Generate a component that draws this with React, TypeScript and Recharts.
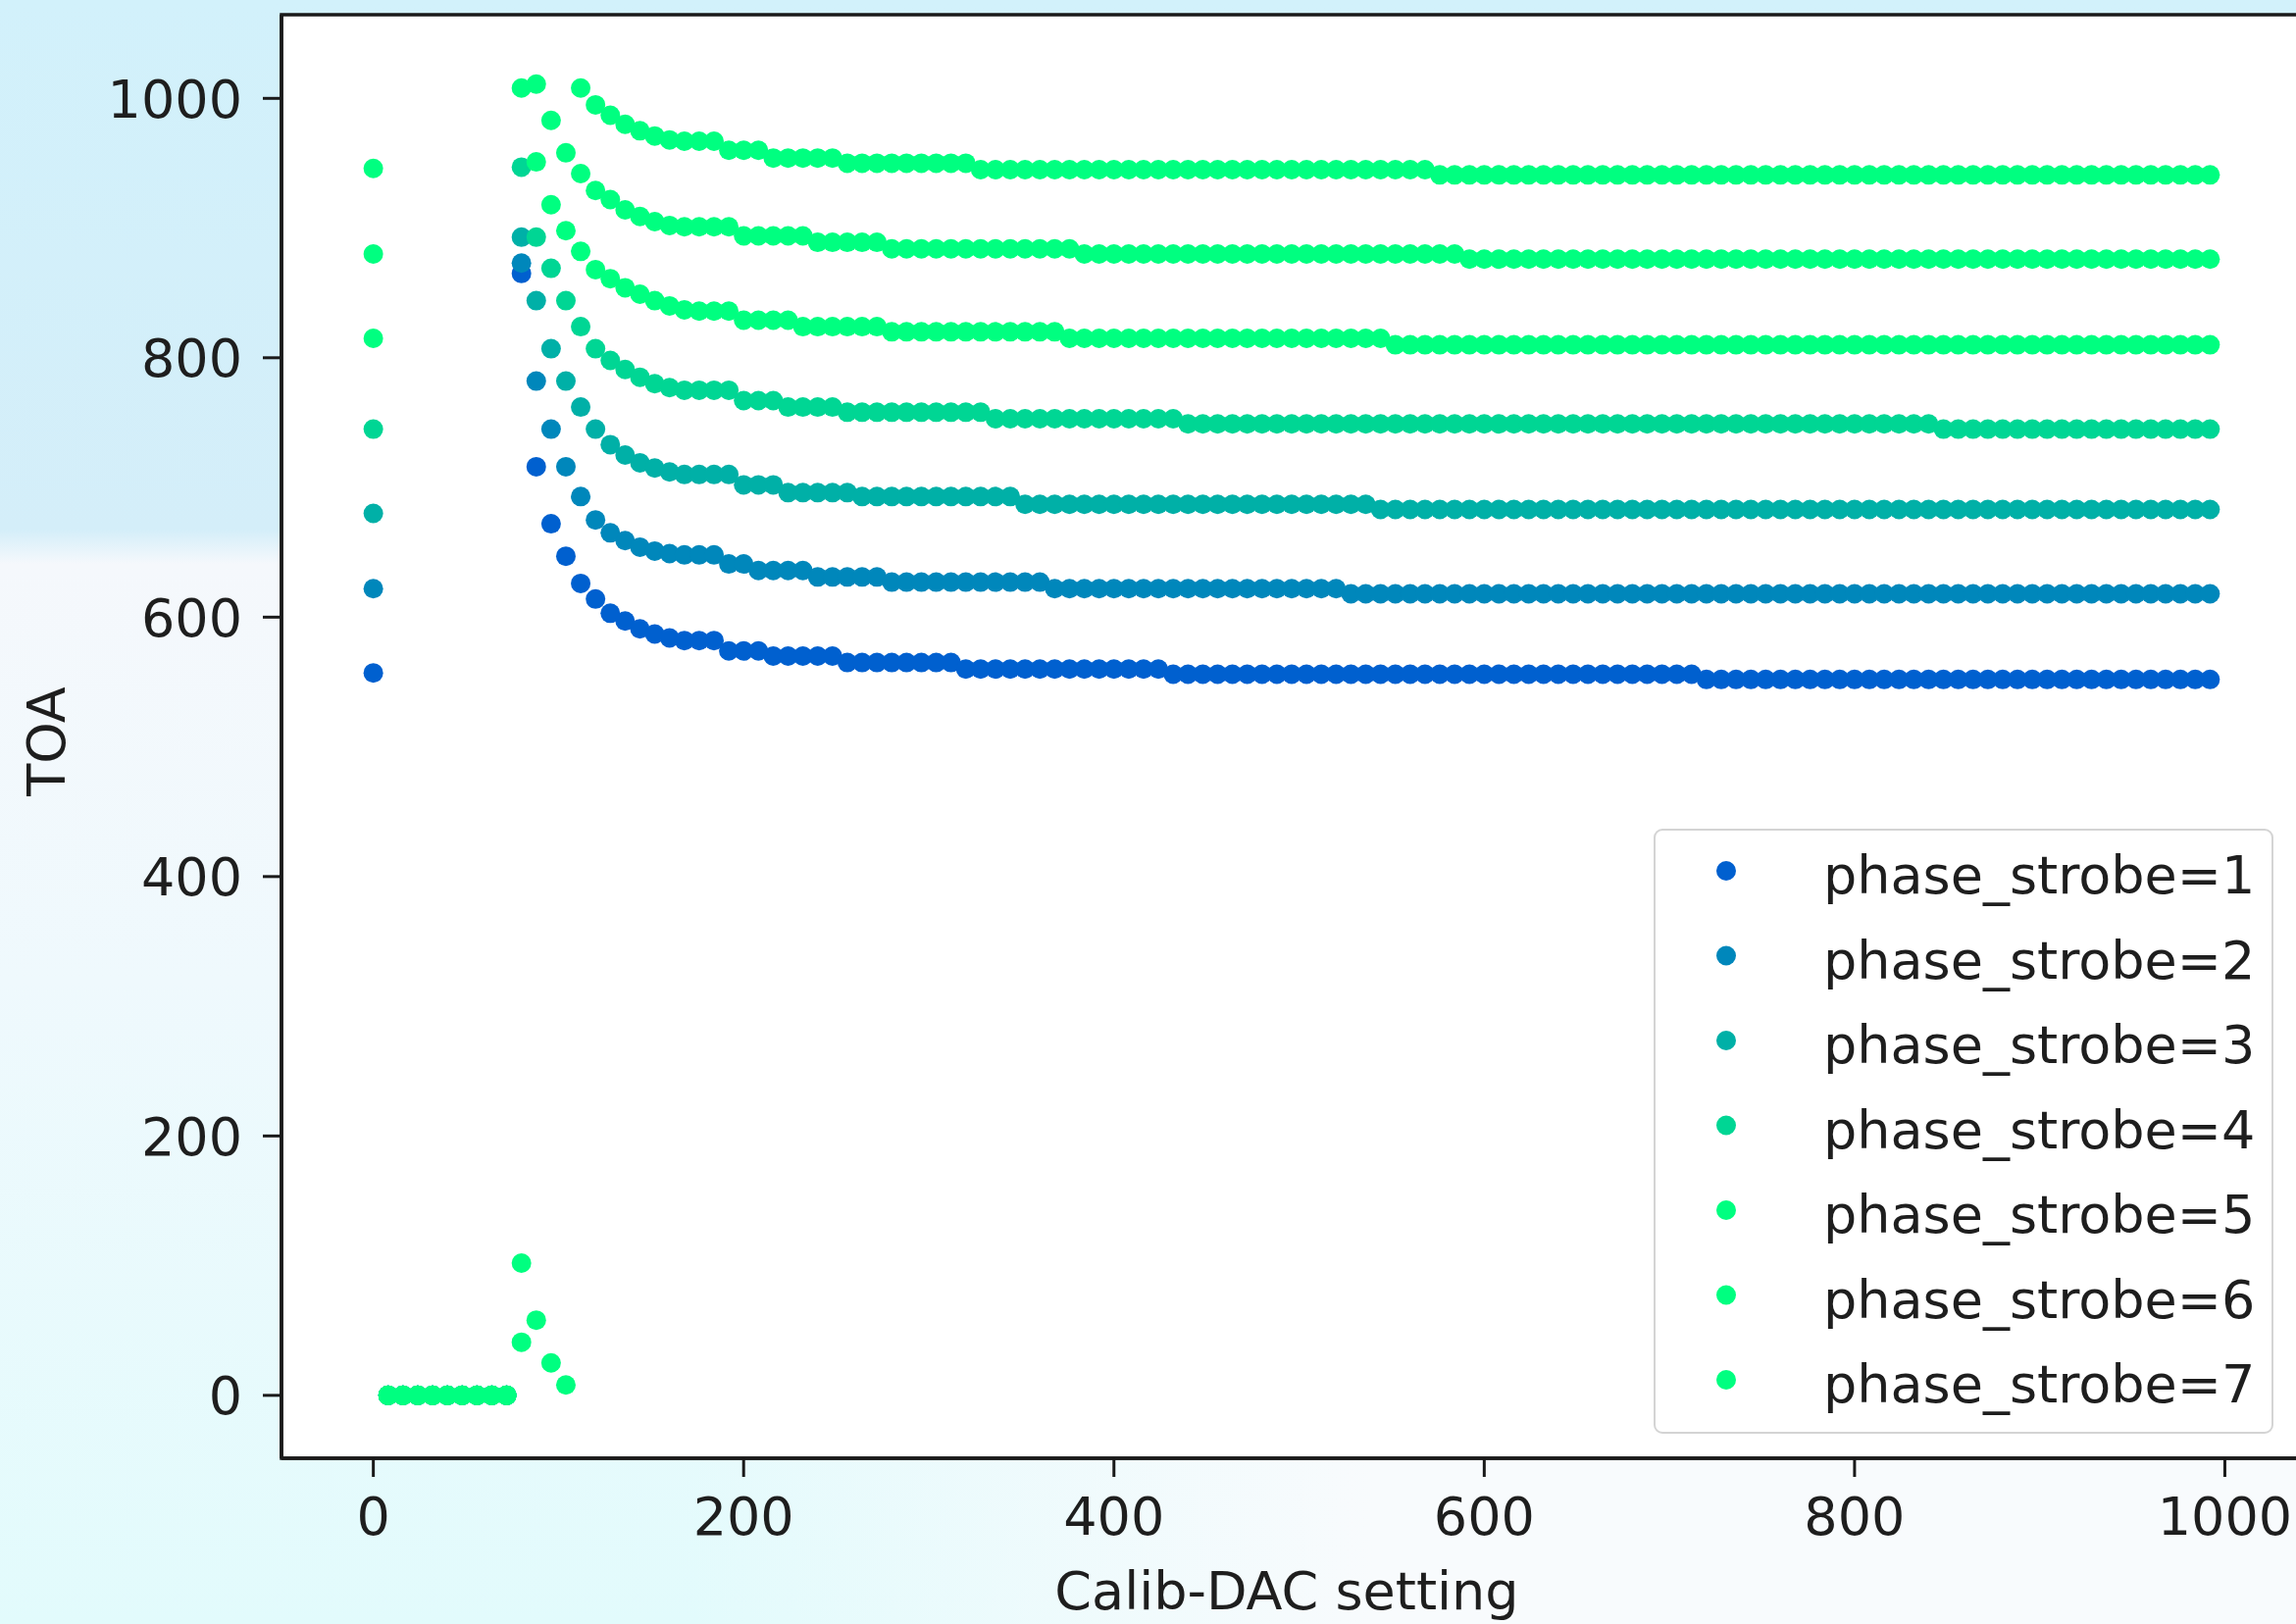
import { ScatterChart, Scatter, XAxis, YAxis, Legend, ReferenceArea } from 'recharts'

// Calib-DAC scan, one point every 8 DAC counts
const DAC_STEP = 8
const DAC_MAX = 992

const seriesNames = [
  'phase_strobe=1',
  'phase_strobe=2',
  'phase_strobe=3',
  'phase_strobe=4',
  'phase_strobe=5',
  'phase_strobe=6',
  'phase_strobe=7',
]
const seriesColors = ['#0060cf', '#0087bb', '#00b0a7', '#00d694', '#00ff80', '#00ff80', '#00ff80']

// TOA read for DAC = 0, 8, 16 ... 168
const phase1Head = [557, 0, 0, 0, 0, 0, 0, 0, 0, 0, 865, 716, 672, 647, 626, 614, 603, 597, 591, 587, 584, 582]
const phase2Head = [622, 0, 0, 0, 0, 0, 0, 0, 0, 0, 873, 782, 745, 716, 693, 675, 665, 659, 654, 651, 649, 648]
const phase3Head = [680, 0, 0, 0, 0, 0, 0, 0, 0, 0, 893, 844, 807, 782, 762, 745, 733, 725, 719, 715, 712, 710]
const phase4Head = [745, 0, 0, 0, 0, 0, 0, 0, 0, 0, 947, 893, 869, 844, 824, 807, 798, 791, 785, 780, 777, 775]
const phase5Head = [815, 0, 0, 0, 0, 0, 0, 0, 0, 0, 1008, 951, 918, 898, 882, 868, 861, 854, 849, 844, 840, 837]
const phase6Head = [880, 0, 0, 0, 0, 0, 0, 0, 0, 0, 41, 1011, 983, 958, 942, 929, 922, 914, 909, 905, 902, 901]
const phase7Head = [946, 0, 0, 0, 0, 0, 0, 0, 0, 0, 102, 58, 25, 8, 1008, 995, 987, 980, 975, 971, 968, 967]

// flat plateaus after that: [first DAC of the plateau, TOA]
const phase1Runs = [[176, 582], [192, 574], [216, 570], [256, 565], [320, 560], [432, 556], [720, 552]]
const phase2Runs = [[176, 648], [192, 641], [208, 636], [240, 631], [280, 627], [368, 622], [528, 618]]
const phase3Runs = [[176, 710], [200, 702], [224, 696], [264, 693], [352, 687], [544, 683]]
const phase4Runs = [[176, 775], [200, 767], [224, 762], [256, 758], [336, 753], [440, 749], [848, 745]]
const phase5Runs = [[176, 836], [200, 829], [232, 824], [280, 820], [376, 815], [552, 810]]
const phase6Runs = [[176, 901], [200, 894], [240, 889], [280, 884], [384, 880], [592, 876]]
const phase7Runs = [[176, 967], [192, 960], [216, 954], [256, 950], [328, 945], [576, 941]]

const xTicks = [0, 200, 400, 600, 800, 1000]
const yTicks = [0, 200, 400, 600, 800, 1000]

const X_DOMAIN: [number, number] = [-49.6, 1041.6]
const Y_DOMAIN: [number, number] = [-48.5, 1064.5]

function buildSeries(head: number[], runs: number[][]) {
  const points: { x: number; y: number }[] = []
  for (let x = 0; x <= DAC_MAX; x += DAC_STEP) {
    const idx = x / DAC_STEP
    let y: number
    if (idx < head.length) {
      y = head[idx]
    } else {
      const run = runs.filter((r) => r[0] <= x).pop()
      y = run ? run[1] : head[head.length - 1]
    }
    points.push({ x, y })
  }
  return points
}

const seriesData = [
  buildSeries(phase1Head, phase1Runs),
  buildSeries(phase2Head, phase2Runs),
  buildSeries(phase3Head, phase3Runs),
  buildSeries(phase4Head, phase4Runs),
  buildSeries(phase5Head, phase5Runs),
  buildSeries(phase6Head, phase6Runs),
  buildSeries(phase7Head, phase7Runs),
]

const FONT = '"DejaVu Sans", sans-serif'
const TEXT_COLOR = '#1e1e1e'
const AXIS_COLOR = '#1a1a1a'
const MARKER_R = 10

function XTick(props: any) {
  const { x, y, payload } = props
  return (
    <text x={x} y={y + 59} textAnchor="middle" fontSize={54} fontFamily={FONT} fill={TEXT_COLOR}>
      {payload.value}
    </text>
  )
}

function YTick(props: any) {
  const { x, y, payload } = props
  return (
    <text x={x} y={y} dy="0.36em" textAnchor="end" fontSize={54} fontFamily={FONT} fill={TEXT_COLOR}>
      {payload.value}
    </text>
  )
}

function XLabel(props: any) {
  const { viewBox } = props
  return (
    <text
      x={1312}
      y={viewBox.y + 154}
      textAnchor="middle"
      fontSize={54}
      fontFamily={FONT}
      fill={TEXT_COLOR}
    >
      Calib-DAC setting
    </text>
  )
}

function YLabel() {
  return (
    <text
      transform="translate(66, 756) rotate(-90)"
      textAnchor="middle"
      fontSize={54}
      fontFamily={FONT}
      fill={TEXT_COLOR}
    >
      TOA
    </text>
  )
}

function LegendBox() {
  return (
    <div
      style={{
        width: 632,
        height: 617,
        boxSizing: 'border-box',
        border: '2px solid #d4d4d4',
        borderRadius: 9,
        background: 'rgba(255,255,255,0.85)',
      }}
    >
      <svg width={628} height={613} style={{ display: 'block' }}>
        {seriesNames.map((name, i) => {
          const cy = 41 + 86.5 * i
          return (
            <g key={name}>
              <circle cx={72} cy={cy} r={MARKER_R} fill={seriesColors[i]} />
              <text x={171} y={cy + 23} fontSize={54} fontFamily={FONT} fill={TEXT_COLOR}>
                {name}
              </text>
            </g>
          )
        })}
      </svg>
    </div>
  )
}

export default function App() {
  return (
    <div
      style={{
        position: 'relative',
        width: 2341,
        height: 1656,
        overflow: 'hidden',
        background:
          'linear-gradient(to bottom, #d2f1fb 0px, #d4eef9 540px, #f5f8fc 575px, #eff9fd 1000px, #e2fbfc 1656px)',
      }}
    >
      <style>{'body { margin: 0; }'}</style>
      <div
        style={{
          position: 'absolute',
          left: 700,
          top: 1487,
          width: 1641,
          height: 169,
          background: 'linear-gradient(to right, rgba(248,252,253,0), #f8fbfd 700px)',
        }}
      />
      <div style={{ position: 'absolute', left: 0, top: 0 }}>
        <ScatterChart width={2400} height={1656} margin={{ top: 15, right: 53, bottom: 0, left: 0 }}>
          <ReferenceArea
            x1={X_DOMAIN[0]}
            x2={X_DOMAIN[1]}
            y1={Y_DOMAIN[0]}
            y2={Y_DOMAIN[1]}
            fill="#ffffff"
            fillOpacity={1}
            stroke={AXIS_COLOR}
            strokeWidth={3.5}
            ifOverflow="visible"
          />
          <XAxis
            type="number"
            dataKey="x"
            domain={X_DOMAIN}
            allowDataOverflow
            ticks={xTicks}
            height={169}
            tickSize={19}
            tickMargin={0}
            tick={<XTick />}
            axisLine={{ stroke: AXIS_COLOR, strokeWidth: 3.5 }}
            tickLine={{ stroke: AXIS_COLOR, strokeWidth: 3 }}
            label={<XLabel />}
          />
          <YAxis
            type="number"
            dataKey="y"
            domain={Y_DOMAIN}
            allowDataOverflow
            ticks={yTicks}
            width={287}
            tickSize={19}
            tickMargin={21}
            tick={<YTick />}
            axisLine={{ stroke: AXIS_COLOR, strokeWidth: 3.5 }}
            tickLine={{ stroke: AXIS_COLOR, strokeWidth: 3 }}
            label={<YLabel />}
          />
          {seriesData.map((points, i) => (
            <Scatter
              key={seriesNames[i]}
              name={seriesNames[i]}
              data={points}
              fill={seriesColors[i]}
              isAnimationActive={false}
              shape={(p: any) => <circle cx={p.cx} cy={p.cy} r={MARKER_R} fill={seriesColors[i]} />}
            />
          ))}
          <Legend
            layout="horizontal"
            verticalAlign="middle"
            align="center"
            wrapperStyle={{ left: 1686, top: 845, width: 632, height: 617 }}
            content={() => <LegendBox />}
          />
        </ScatterChart>
      </div>
    </div>
  )
}
